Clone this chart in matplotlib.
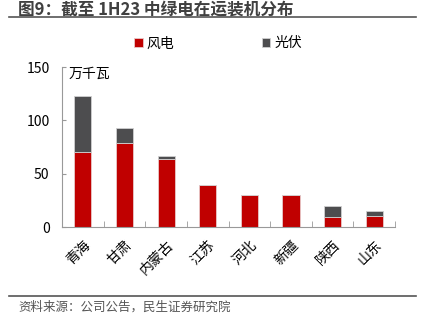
import matplotlib.pyplot as plt
import numpy as np

plt.rcParams['font.family'] = ['Noto Sans CJK SC', 'DejaVu Sans']

provinces = ['青海', '甘肃', '内蒙古', '江苏', '河北', '新疆', '陕西', '山东']
wind = [70, 79, 64, 39, 30, 30, 9, 10]
solar = [53, 14, 3, 0, 0, 0, 11, 5]

red = '#C00000'
grey = '#4D4D4F'

fig = plt.figure(figsize=(4.28, 3.29), dpi=100)
ax = fig.add_axes([0.145, 0.310, 0.778, 0.486])

x = np.arange(len(provinces))
ax.bar(x, wind, width=0.41, color=red, edgecolor='#E8C8C8', linewidth=0.6, label='风电')
ax.bar(x, solar, width=0.41, bottom=wind, color=grey, edgecolor='#D0D0D0', linewidth=0.6, label='光伏')

ax.set_xlim(-0.5, len(provinces) - 0.5)
ax.set_ylim(0, 150)
ax.set_yticks([0, 50, 100, 150])
ax.tick_params(axis='y', labelsize=10, length=3, direction='in', color='#999999', pad=9)
ax.set_xticks(x)
ax.set_xticklabels(provinces, rotation=45, ha='right', va='top', fontsize=10,
                   rotation_mode='anchor')
ax.tick_params(axis='x', length=0, pad=8)
ax.set_xticks(np.arange(-0.5, len(provinces)), minor=True)
ax.tick_params(axis='x', which='minor', direction='in', length=4, color='#999999')

for s in ['top', 'right']:
    ax.spines[s].set_visible(False)
for s in ['left', 'bottom']:
    ax.spines[s].set_color('#999999')
    ax.spines[s].set_linewidth(0.8)

ax.text(0.02, 1.0, '万千瓦', transform=ax.transAxes, fontsize=10, va='top', ha='left')

leg = fig.legend(loc='center', bbox_to_anchor=(0.51, 0.868), ncol=2, frameon=False,
                 fontsize=10, handlelength=0.6, handleheight=0.6, handletextpad=0.3,
                 columnspacing=6.3)

fig.text(0.042, 0.997, '图9：截至 1H23 中绿电在运装机分布', fontsize=12,
         fontweight='bold', color='#404040', va='top', ha='left')
fig.add_artist(plt.Line2D([0.021, 0.972], [0.947, 0.947], color='#555555', linewidth=1.2))
fig.add_artist(plt.Line2D([0.021, 0.972], [0.100, 0.100], color='#555555', linewidth=1.2))
fig.text(0.042, 0.065, '资料来源：公司公告，民生证券研究院', fontsize=9, color='#555555',
         va='center', ha='left')

fig.savefig('out.png', dpi=100)
